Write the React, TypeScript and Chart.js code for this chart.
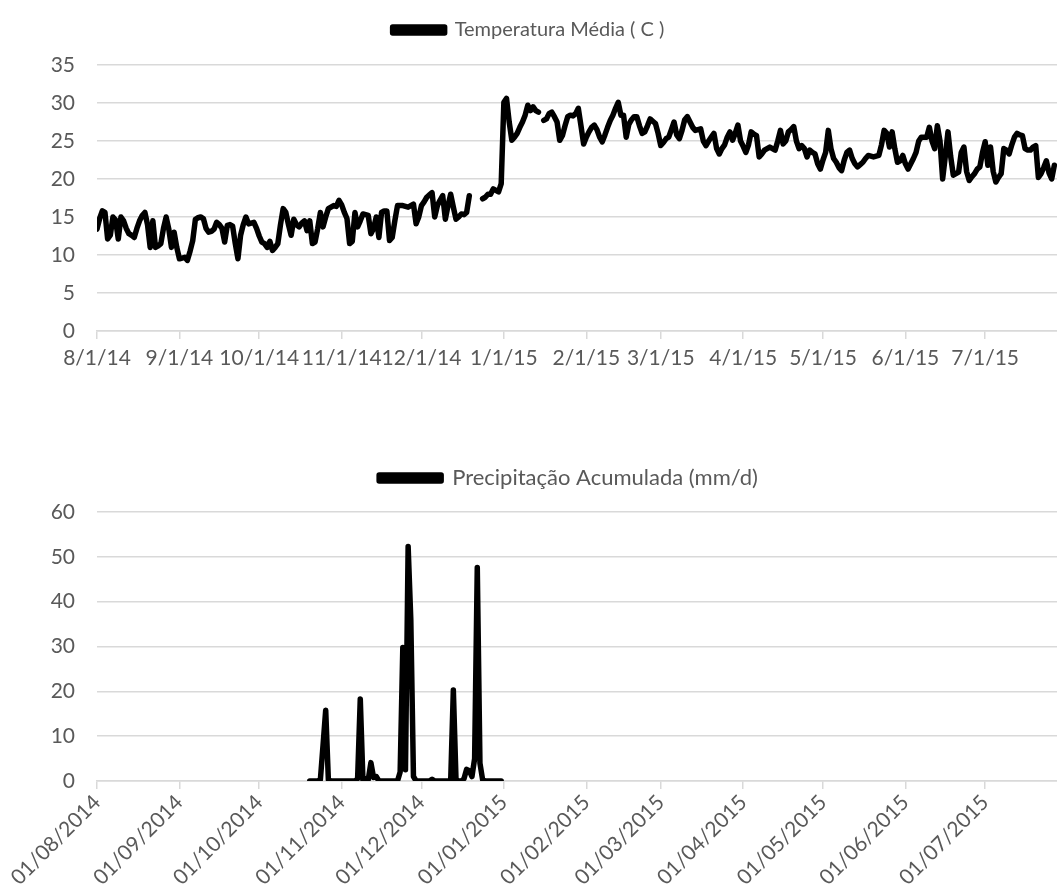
import React, { useEffect, useRef } from "react";
import { Chart, registerables } from "chart.js";

Chart.register(...registerables);

// ---------- DATA ----------
const seriesStart = "2014-08-01";
const axisEnd = "2015-07-28";

const tickDates = [
  "2014-08-01", "2014-09-01", "2014-10-01", "2014-11-01", "2014-12-01", "2015-01-01",
  "2015-02-01", "2015-03-01", "2015-04-01", "2015-05-01", "2015-06-01", "2015-07-01",
];
const topTickLabels = [
  "8/1/14", "9/1/14", "10/1/14", "11/1/14", "12/1/14", "1/1/15",
  "2/1/15", "3/1/15", "4/1/15", "5/1/15", "6/1/15", "7/1/15",
];
const bottomTickLabels = [
  "01/08/2014", "01/09/2014", "01/10/2014", "01/11/2014", "01/12/2014", "01/01/2015",
  "01/02/2015", "01/03/2015", "01/04/2015", "01/05/2015", "01/06/2015", "01/07/2015",
];

const tempLabel = "Temperatura Média ( C )";
const precipLabel = "Precipitação Acumulada (mm/d)";

// daily mean temperature from 2014-08-01 (null = missing day)
const temperatureAug = [13.4, 14.8, 15.8, 15.6, 12.1, 12.6, 15.0, 14.6, 12.1, 15.0, 14.5, 13.5, 12.8, 12.6, 12.3, 13.5, 14.5, 15.2, 15.6, 14.0, 11.0, 14.5, 11.0, 11.2, 11.5, 13.5, 15.0, 13.4, 11.0, 13.0, 11.0];
const temperatureSep = [9.5, 9.6, 9.7, 9.3, 10.5, 11.9, 14.7, 14.9, 15.0, 14.8, 13.5, 13.0, 13.1, 13.4, 14.3, 14.0, 13.5, 11.7, 13.9, 14.0, 13.8, 11.5, 9.5, 12.6, 14.0, 15.0, 14.1, 14.2, 14.3, 13.5];
const temperatureOct = [12.5, 11.7, 11.5, 11.0, 11.8, 10.6, 11.0, 11.5, 14.0, 16.1, 15.6, 14.0, 12.6, 14.7, 14.0, 13.7, 14.2, 14.5, 13.2, 14.5, 11.5, 11.7, 13.5, 15.6, 13.7, 15.0, 16.1, 16.3, 16.5, 16.4, 17.2];
const temperatureNov = [16.6, 15.6, 14.8, 11.5, 11.8, 15.6, 13.7, 14.5, 15.4, 15.3, 15.2, 12.8, 13.5, 15.0, 12.3, 15.6, 15.8, 15.8, 11.9, 12.3, 14.5, 16.5, 16.5, 16.5, 16.4, 16.3, 16.5, 16.7, 14.1, 15.0];
const temperatureDec = [16.5, 17.0, 17.6, 17.9, 18.2, 15.0, 16.5, 17.2, 17.8, 14.7, 16.5, 18.0, 16.3, 14.7, 15.0, 15.4, 15.3, 15.6, 17.8, null, null, null, null, 17.4, 17.6, 18.0, 18.0, 18.7, 18.5, 18.3, 19.4];
const temperatureJan = [30.1, 30.6, 27.5, 25.1, 25.5, 26.0, 26.8, 27.5, 28.4, 29.7, 29.0, 29.5, 29.0, 28.8, null, 27.7, 27.9, 28.6, 28.8, 28.2, 27.5, 25.1, 25.7, 27.0, 28.2, 28.4, 28.3, 28.6, 29.3, 27.0, 24.6];
const temperatureFeb = [25.5, 26.2, 26.8, 27.1, 26.5, 25.5, 24.9, 25.8, 26.8, 27.7, 28.4, 29.3, 30.1, 28.4, 28.4, 25.5, 27.2, 27.8, 28.2, 28.2, 27.0, 26.0, 26.2, 27.0, 27.9, 27.6, 27.3, 26.0];
const temperatureMar = [24.4, 24.8, 25.3, 25.5, 26.5, 27.5, 25.8, 25.3, 26.4, 27.8, 28.2, 27.5, 26.8, 26.4, 26.5, 26.6, 25.0, 24.4, 25.0, 25.5, 26.0, 24.0, 23.3, 24.0, 24.5, 25.5, 26.2, 25.1, 26.0, 27.1, 25.0];
const temperatureApr = [24.3, 23.5, 24.5, 26.2, 25.9, 25.7, 22.9, 23.3, 23.8, 24.0, 24.2, 24.0, 23.8, 25.0, 26.4, 24.6, 25.0, 26.2, 26.5, 26.9, 25.0, 24.0, 24.4, 24.0, 22.9, 23.8, 23.5, 23.3, 22.0, 21.3];
const temperatureMay = [22.5, 23.5, 26.4, 24.0, 22.7, 22.2, 21.5, 21.1, 22.5, 23.5, 23.8, 22.7, 22.0, 21.6, 21.9, 22.2, 22.7, 23.1, 23.0, 22.9, 23.0, 23.1, 24.5, 26.4, 26.0, 24.2, 26.2, 24.0, 22.2, 22.4, 23.1];
const temperatureJun = [22.0, 21.3, 22.0, 22.7, 23.5, 25.0, 25.5, 25.5, 25.5, 26.8, 25.0, 24.0, 27.0, 25.0, 20.0, 23.0, 26.2, 23.0, 20.5, 20.7, 20.9, 23.5, 24.2, 21.0, 19.8, 20.3, 20.7, 21.3, 21.6, 23.5];
const temperatureJul = [24.9, 21.8, 24.2, 21.0, 19.6, 20.2, 20.7, 24.0, 23.8, 23.3, 24.5, 25.5, 26.0, 25.8, 25.7, 24.0, 23.8, 23.8, 24.2, 24.4, 20.2, 20.7, 21.5, 22.4, 20.8, 20.0, 21.8];

const temperatureC = [
  ...temperatureAug, ...temperatureSep, ...temperatureOct, ...temperatureNov,
  ...temperatureDec, ...temperatureJan, ...temperatureFeb, ...temperatureMar,
  ...temperatureApr, ...temperatureMay, ...temperatureJun, ...temperatureJul,
];

// daily accumulated precipitation from 2014-10-20 (mm/d)
const precipStart = "2014-10-20";
const precipMm = [
  0, 0, 0, 0, 0.3, 8, 15.8, 0.3, 0, 0, 0, 0, 0, 0, 0, 0, 0, 0, 0.5, 18.3,
  0.2, 0.5, 0.3, 4.1, 0.8, 1.0, 0, 0, 0, 0, 0, 0, 0, 0, 2, 29.8, 2.5, 52.3, 36, 1,
  0, 0, 0, 0, 0, 0, 0.4, 0, 0, 0, 0, 0, 0, 0, 20.3, 0.3, 0, 0, 0.5, 2.6,
  2.3, 1.0, 5, 47.6, 4, 0.3, 0, 0, 0, 0, 0, 0, 0,
];

const tempTicks = { min: 0, max: 35, step: 5 };
const precipTicks = { min: 0, max: 60, step: 10 };

// ---------- HELPERS ----------
const DAY = 86400000;
const dayOf = (s: string) => Math.round((Date.parse(s) - Date.parse(seriesStart)) / DAY);
const tickDays = tickDates.map(dayOf);

const FONT = "Lato, 'Liberation Sans', sans-serif";
const TEXT = "#595959";
const GRID = "#d9d9d9";
const PLOT_LEFT = 97;

function makeConfig(opts: {
  label: string;
  points: { x: number; y: number | null }[];
  yr: { min: number; max: number; step: number };
  tickLabels: string[];
  rotate: boolean;
  padTop: number;
  xAxisHeight: number;
  legendPad: number;
  legendFont: number;
  legendBox: number;
  legendShift: number;
  gapBelowLegend: number;
}): any {
  return {
    type: "line",
    data: {
      datasets: [
        {
          label: opts.label,
          data: opts.points,
          borderColor: "#000000",
          backgroundColor: "#000000",
          borderWidth: 5.5,
          pointRadius: 0,
          tension: 0,
          spanGaps: false,
          borderJoinStyle: "round",
          borderCapStyle: "round",
        },
      ],
    },
    plugins: [
      {
        id: "legendShift",
        afterLayout(chart: any) {
          const l = chart.legend;
          if (l) {
            l.left += opts.legendShift;
            l.right += opts.legendShift;
          }
        },
      },
    ],
    options: {
      responsive: false,
      animation: false,
      devicePixelRatio: 1,
      layout: { padding: { left: 0, right: 0, top: opts.padTop, bottom: 0 } },
      plugins: {
        tooltip: { enabled: false },
        legend: {
          display: true,
          position: "top",
          labels: {
            color: TEXT,
            font: { family: FONT, size: opts.legendFont },
            boxWidth: opts.legendBox,
            boxHeight: 6,
            padding: opts.legendPad,
          },
        },
      },
      scales: {
        x: {
          type: "linear",
          min: 0,
          max: dayOf(axisEnd),
          afterBuildTicks: (scale: any) => {
            scale.ticks = tickDays.map((v) => ({ value: v }));
          },
          afterFit: (scale: any) => {
            scale.height = opts.xAxisHeight;
          },
          ticks: {
            autoSkip: false,
            maxRotation: opts.rotate ? 45 : 0,
            minRotation: opts.rotate ? 45 : 0,
            color: TEXT,
            font: { family: FONT, size: 21 },
            padding: opts.rotate ? 1 : 7,
            callback: (v: number) => {
              const i = tickDays.indexOf(v);
              return i >= 0 ? opts.tickLabels[i] : "";
            },
          },
          grid: {
            drawOnChartArea: false,
            drawTicks: true,
            tickLength: 8,
            color: GRID,
            lineWidth: 1.5,
          },
          border: { display: true, color: GRID, width: 1.5 },
        },
        gap: {
          type: "linear",
          position: "top",
          display: true,
          afterFit: (scale: any) => {
            scale.height = opts.gapBelowLegend;
          },
          ticks: { display: false },
          grid: { display: false },
          border: { display: false },
        },
        y: {
          min: opts.yr.min,
          max: opts.yr.max,
          afterFit: (scale: any) => {
            scale.width = PLOT_LEFT;
          },
          ticks: {
            stepSize: opts.yr.step,
            color: TEXT,
            font: { family: FONT, size: 21 },
            padding: 22,
          },
          grid: { color: GRID, lineWidth: 1.5, drawTicks: false },
          border: { display: false },
        },
      },
    },
  };
}

function LineChart(props: { config: any; width: number; height: number; top: number }) {
  const ref = useRef<HTMLCanvasElement | null>(null);
  useEffect(() => {
    if (!ref.current) return;
    const chart = new Chart(ref.current, props.config);
    return () => chart.destroy();
  }, []);
  return (
    <canvas
      ref={ref}
      width={props.width}
      height={props.height}
      style={{ position: "absolute", left: 0, top: props.top, width: props.width, height: props.height }}
    />
  );
}

export default function App() {
  const tempPoints = temperatureC.map((v, i) => ({ x: i, y: v }));
  const p0 = dayOf(precipStart);
  const precipPoints = precipMm.map((v, i) => ({ x: p0 + i, y: v }));

  const topConfig = makeConfig({
    label: tempLabel,
    points: tempPoints,
    yr: tempTicks,
    tickLabels: topTickLabels,
    rotate: false,
    padTop: 8,
    xAxisHeight: 69,
    legendPad: 12,
    legendFont: 20,
    legendBox: 52,
    legendShift: 0,
    gapBelowLegend: 15,
  });
  const bottomConfig = makeConfig({
    label: precipLabel,
    points: precipPoints,
    yr: precipTicks,
    tickLabels: bottomTickLabels,
    rotate: true,
    padTop: 15,
    xAxisHeight: 111,
    legendPad: 12,
    legendFont: 22,
    legendBox: 62,
    legendShift: 40,
    gapBelowLegend: 13,
  });

  return (
    <div style={{ position: "absolute", left: 0, top: 0, width: 1057, height: 892, background: "#ffffff" }}>
      <LineChart config={topConfig} width={1057} height={400} top={0} />
      <LineChart config={bottomConfig} width={1057} height={452} top={440} />
    </div>
  );
}
